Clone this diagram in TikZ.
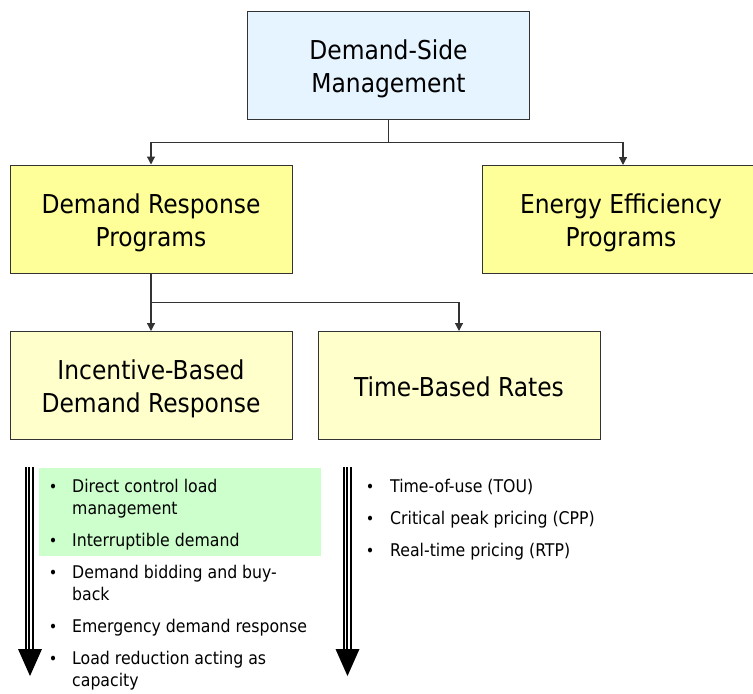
\documentclass[tikz,border=0pt]{standalone}
\usepackage{fontspec}
\setmainfont{DejaVu Sans Condensed}
\usetikzlibrary{arrows.meta}
\definecolor{dsmblue}{HTML}{E6F4FF}
\definecolor{ylw}{HTML}{FFFF99}
\definecolor{lylw}{HTML}{FFFFCC}
\definecolor{lgreen}{HTML}{CCFFCC}
\definecolor{edge}{HTML}{333333}
\newcommand{\boxtext}[1]{\raisebox{-4pt}[\height][\depth]{\begin{tabular}{@{}c@{}}#1\end{tabular}}}
\begin{document}
\begin{tikzpicture}[x=1pt,y=-1pt,
  box/.style={draw=edge, line width=1pt, minimum width=282pt, minimum height=108pt,
    align=center, inner sep=0pt, font=\fontsize{26}{33}\selectfont},
  conn/.style={draw=edge, line width=1.2pt},
  arr/.style={conn, -{Triangle[width=8pt,length=8pt]}},
  item/.style={anchor=base west, inner sep=0pt, font=\fontsize{17.5}{22}\selectfont},
  bul/.style={anchor=base, inner sep=0pt, font=\fontsize{16}{22}\selectfont},
  shaft/.style={line width=2pt, black},
  head/.style={fill=black}]
\useasboundingbox (0,0) rectangle (753,694);
% boxes
\node[box, fill=dsmblue] (dsm) at (388.5,65) {\boxtext{Demand-Side\\Management}};
\node[box, fill=ylw] (dr) at (151,219) {\boxtext{Demand Response\\Programs}};
\node[box, fill=ylw, minimum width=278pt] (ee) at (621,219.5) {\boxtext{Energy Efficiency\\Programs}};
\node[box, fill=lylw] (ib) at (151,385.5) {\boxtext{Incentive-Based\\Demand Response}};
\node[box, fill=lylw] (tb) at (459,385.5) {\boxtext{Time-Based Rates}};
% connectors
\draw[conn] (dsm.south) -- ++(0,23) coordinate (j1);
\draw[arr] (j1) -| (dr.north);
\draw[arr] (j1) -| ([xshift=2pt]ee.north);
\draw[conn] (dr.south) -- ++(0,29) coordinate (j2);
\draw[arr] (j2) -- (ib.north);
\draw[arr] (j2) -| (tb.north);
% green highlight
\fill[lgreen] (39,468) rectangle (321,556);
% triple arrows
\foreach \x in {26,29.3,32.6} \draw[shaft] (\x,467) -- (\x,650);
\fill[head] (18,649) -- (42,649) -- (30,676) -- cycle;
\foreach \x in {343.8,347.3,350.8} \draw[shaft] (\x,467) -- (\x,650);
\fill[head] (335.5,649) -- (359.5,649) -- (347.5,676) -- cycle;
% left list
\node[bul] (b1) at (53,492) {•};
\node[item] (t1) at (72,492) {\parbox[t]{250pt}{\fontsize{17.5}{22}\selectfont Direct control load\\management}};
\node[bul] (b2) at (53,546) {•};
\node[item] (t2) at (72,546) {Interruptible demand};
\node[bul] (b3) at (53,578) {•};
\node[item] (t3) at (72,578) {\parbox[t]{250pt}{\fontsize{17.5}{22}\selectfont Demand bidding and buy-\\back}};
\node[bul] (b4) at (53,632) {•};
\node[item] (t4) at (72,632) {Emergency demand response};
\node[bul] (b5) at (53,664) {•};
\node[item] (t5) at (72,664) {\parbox[t]{250pt}{\fontsize{17.5}{22}\selectfont Load reduction acting as\\capacity}};
% right list
\node[bul] (r1b) at (370,492) {•};
\node[item] (r1) at (390,492) {Time-of-use (TOU)};
\node[bul] (r2b) at (370,524) {•};
\node[item] (r2) at (390,524) {Critical peak pricing (CPP)};
\node[bul] (r3b) at (370,556) {•};
\node[item] (r3) at (390,556) {Real-time pricing (RTP)};
\end{tikzpicture}
\end{document}
